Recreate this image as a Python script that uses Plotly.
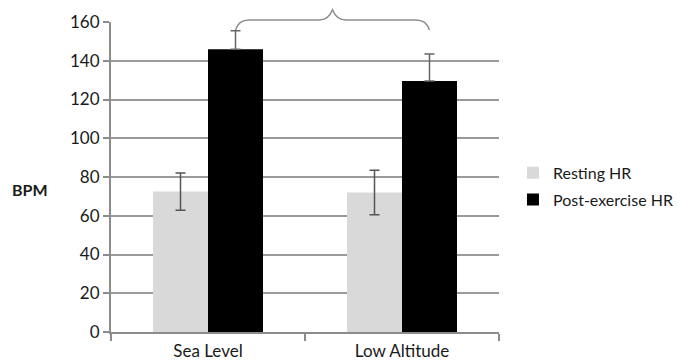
import plotly.graph_objects as go

categories = ["Sea Level", "Low Altitude"]
resting_hr = [72.5, 72]
resting_err = [9.6, 11.5]
post_hr = [146, 129.5]
post_err = [9.5, 14]
y_ticks = [0, 20, 40, 60, 80, 100, 120, 140, 160]

FONT = "Lato, 'Open Sans', sans-serif"
TXT = "#1a1a1a"
ymax = 160
bargap = 0.433

fig = go.Figure()
fig.add_trace(go.Bar(
    name="Resting HR", x=categories, y=resting_hr, legendgroup="a",
    marker=dict(color="#d9d9d9", line=dict(width=0)),
    error_y=dict(type="data", array=resting_err, color="#555555", thickness=1.5, width=5),
))
fig.add_trace(go.Bar(
    name="Post-exercise HR", x=categories, y=post_hr, legendgroup="b",
    marker=dict(color="#000000", line=dict(width=0)),
    error_y=dict(type="data", array=post_err, arrayminus=[0, 0], symmetric=False,
                 color="#666666", thickness=1.5, width=5),
))

# brace spanning the post-exercise bars (paper coordinates derived from bar layout)
bw = (1 - bargap) / 2
ncat = len(categories)
def xp(v):
    return (v + 0.5) / ncat
xl = xp(0 + bw / 2)
xr = xp(1 + bw / 2)
xm = (xl + xr) / 2
yb = 1.0 + 1.0 / ymax * 1
yend = yb - 0.032
ytip = yb + 0.033
d = 0.035
path = (f"M {xl},{yend} Q {xl+0.008},{yb} {xl+d},{yb} L {xm-d},{yb} "
        f"Q {xm-0.01},{yb} {xm},{ytip} Q {xm+0.01},{yb} {xm+d},{yb} "
        f"L {xr-d},{yb} Q {xr-0.008},{yb} {xr},{yend}")
fig.add_shape(type="path", path=path, xref="paper", yref="paper",
              line=dict(color="#8c8c8c", width=1.5), layer="above")

fig.add_annotation(text="<b>BPM</b>", xref="paper", yref="paper",
                   x=-0.209, y=0.46, showarrow=False, xanchor="center",
                   font=dict(family=FONT, size=16, color=TXT))

fig.update_layout(
    width=679, height=362,
    margin=dict(l=111, r=180, t=22, b=30, autoexpand=False),
    paper_bgcolor="white", plot_bgcolor="white",
    barmode="group", bargap=bargap, bargroupgap=0,
    font=dict(family=FONT, size=16, color=TXT),
    legend=dict(x=1.036, y=0.47, xanchor="left", yanchor="middle",
                font=dict(family=FONT, size=16, color=TXT),
                itemwidth=30, traceorder="grouped", tracegroupgap=3,
                bgcolor="rgba(0,0,0,0)"),
    showlegend=True,
)
fig.update_xaxes(showline=True, linecolor="#8c8c8c", linewidth=2, automargin=False,
                 ticks="outside", tickson="boundaries", ticklen=7, tickcolor="#8c8c8c",
                 tickwidth=1.5, showgrid=False, ticklabelstandoff=3,
                 tickfont=dict(size=17, color=TXT))
fig.update_yaxes(range=[0, ymax], tickvals=y_ticks, showline=True, linecolor="#8c8c8c",
                 linewidth=2, ticks="outside", ticklen=6, tickcolor="#8c8c8c", tickwidth=1.5,
                 showgrid=True, gridcolor="#9a9a9a", gridwidth=1.5, zeroline=False,
                 automargin=False, tickfont=dict(size=17, color=TXT))

fig.write_html(
    "out.html",
    config={"displayModeBar": False, "responsive": False},
    post_script=("document.documentElement.style.margin='0px';"
                 "document.body.style.margin='0px';"
                 "document.body.style.overflow='hidden';"
                 "document.documentElement.style.overflow='hidden';"),
)
